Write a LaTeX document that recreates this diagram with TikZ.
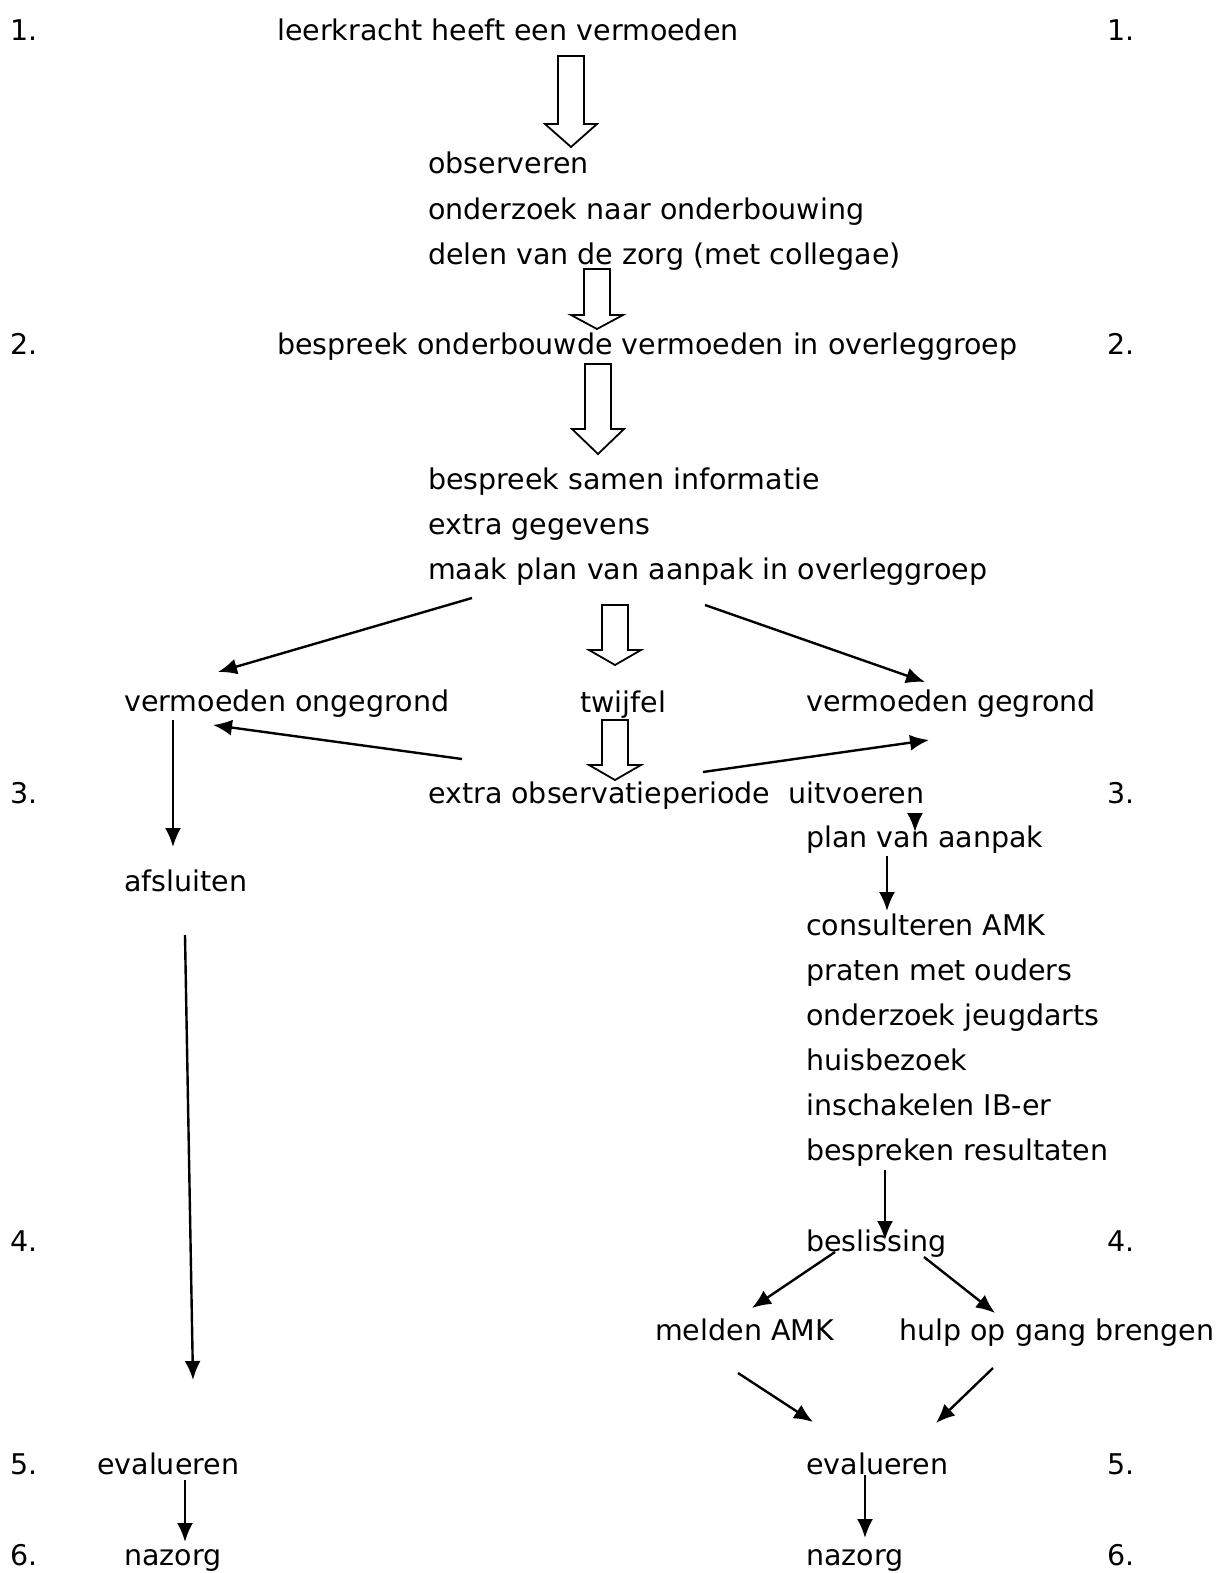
\documentclass[tikz,border=0pt]{standalone}
\usepackage{fontspec}
\setmainfont{DejaVu Sans}
\usepackage{tikz}
\usetikzlibrary{arrows.meta,positioning}

% hollow block arrow: x of centre, top, base of head, tip
\newcommand{\blockarrow}[4]{%
  \draw[hollow] ({#1-13},#2) -- ({#1-13},#3) -- ({#1-26},#3) -- (#1,#4)
    -- ({#1+26},#3) -- ({#1+13},#3) -- ({#1+13},#2) -- cycle;}

\begin{document}
\begin{tikzpicture}[
        x=1pt, y=-1pt,
        txt/.style={anchor=base west, inner sep=0pt, font=\fontsize{28.5}{34}\selectfont},
        arrow/.style={-{Latex[length=19pt,width=16pt]}, line width=2.4pt},
        hollow/.style={line width=1.8pt, line join=miter}
    ]
        \useasboundingbox (0,0) rectangle (1220,1573);

        % Step numbers
        \foreach \n/\y in {1/41, 2/354, 3/803, 4/1251, 5/1474, 6/1565} {
            \node[txt] (numL\n) at (10,\y) {\n.};
            \node[txt] (numR\n) at (1107,\y) {\n.};
        }

        % Step 1 and 2
        \node[txt] (vermoeden) at (277,41) {leerkracht heeft een vermoeden};
        \foreach \t [count=\i] in {observeren, onderzoek naar onderbouwing, delen van de zorg (met collegae)}
            \node[txt] (obs\i) at (428,{174+45*(\i-1)}) {\t};
        \node[txt] (overleg) at (277,354) {bespreek onderbouwde vermoeden in overleggroep};
        \foreach \t [count=\i] in {bespreek samen informatie, extra gegevens, maak plan van aanpak in overleggroep}
            \node[txt] (info\i) at (428,{489+45*(\i-1)}) {\t};

        % Step 3
        \node[txt] (ongegrond) at (124,711) {vermoeden ongegrond};
        \node[txt] (twijfel) at (580,712) {twijfel};
        \node[txt] (gegrond) at (806,711) {vermoeden gegrond};
        \node[txt] (extra) at (428,803) {extra observatieperiode\ \ uitvoeren};
        \node[txt] (plan) at (806,847) {plan van aanpak};
        \node[txt] (afsluiten) at (124,891) {afsluiten};
        \foreach \t [count=\i] in {consulteren AMK, praten met ouders, onderzoek jeugdarts, huisbezoek, inschakelen IB-er, bespreken resultaten}
            \node[txt] (res\i) at (806,{935+45*(\i-1)}) {\t};

        % Step 4 to 6
        \node[txt] (beslissing) at (806,1251) {beslissing};
        \node[txt] (melden) at (655,1340) {melden AMK};
        \node[txt] (hulp) at (899,1340) {hulp op gang brengen};
        \node[txt] (evalL) at (97,1474) {evalueren};
        \node[txt] (evalR) at (806,1474) {evalueren};
        \node[txt] (nazorgL) at (124,1565) {nazorg};
        \node[txt] (nazorgR) at (806,1565) {nazorg};

        % Block arrows
        \blockarrow{571}{56}{124}{147}
        \blockarrow{597}{269}{315}{329}
        \blockarrow{598}{364}{429}{454}
        \blockarrow{615}{605}{650}{665}
        \blockarrow{615}{720}{765}{780}

        % Arrows
        \draw[arrow] ([shift={(44,19)}]info3.base west) -- ([shift={(94,-39)}]ongegrond.base west);
        \draw[arrow] ([shift={(277,26)}]info3.base west) -- ([shift={(119,-29)}]gegrond.base west);
        \draw[arrow] ([shift={(49,9)}]ongegrond.base west) -- ([shift={(49,-44)}]afsluiten.base west);
        \draw[arrow] ([shift={(34,-44)}]extra.base west) -- ([shift={(89,14)}]ongegrond.base west);
        \draw[arrow] ([shift={(275,-31)}]extra.base west) -- ([shift={(123,29)}]gegrond.base west);
        \draw[arrow] ([shift={(487,12)}]extra.base west) -- ([shift={(109,-15)}]plan.base west);
        \draw[arrow] ([shift={(81,9)}]plan.base west) -- ([shift={(81,-24)}]res1.base west);
        \draw[arrow] ([shift={(61,44)}]afsluiten.base west) -- ([shift={(96,-94)}]evalL.base west);
        \draw[arrow] ([shift={(79,10)}]res6.base west) -- ([shift={(79,-11)}]beslissing.base west);
        \draw[arrow] ([shift={(29,1)}]beslissing.base west) -- ([shift={(97,-32)}]melden.base west);
        \draw[arrow] ([shift={(118,6)}]beslissing.base west) -- ([shift={(96,-27)}]hulp.base west);
        \draw[arrow] ([shift={(83,33)}]melden.base west) -- ([shift={(7,-52)}]evalR.base west);
        \draw[arrow] ([shift={(94,28)}]hulp.base west) -- ([shift={(130,-51)}]evalR.base west);
        \draw[arrow] ([shift={(88,6)}]evalL.base west) -- ([shift={(61,-23)}]nazorgL.base west);
        \draw[arrow] ([shift={(59,1)}]evalR.base west) -- ([shift={(59,-27)}]nazorgR.base west);
    \end{tikzpicture}
\end{document}
